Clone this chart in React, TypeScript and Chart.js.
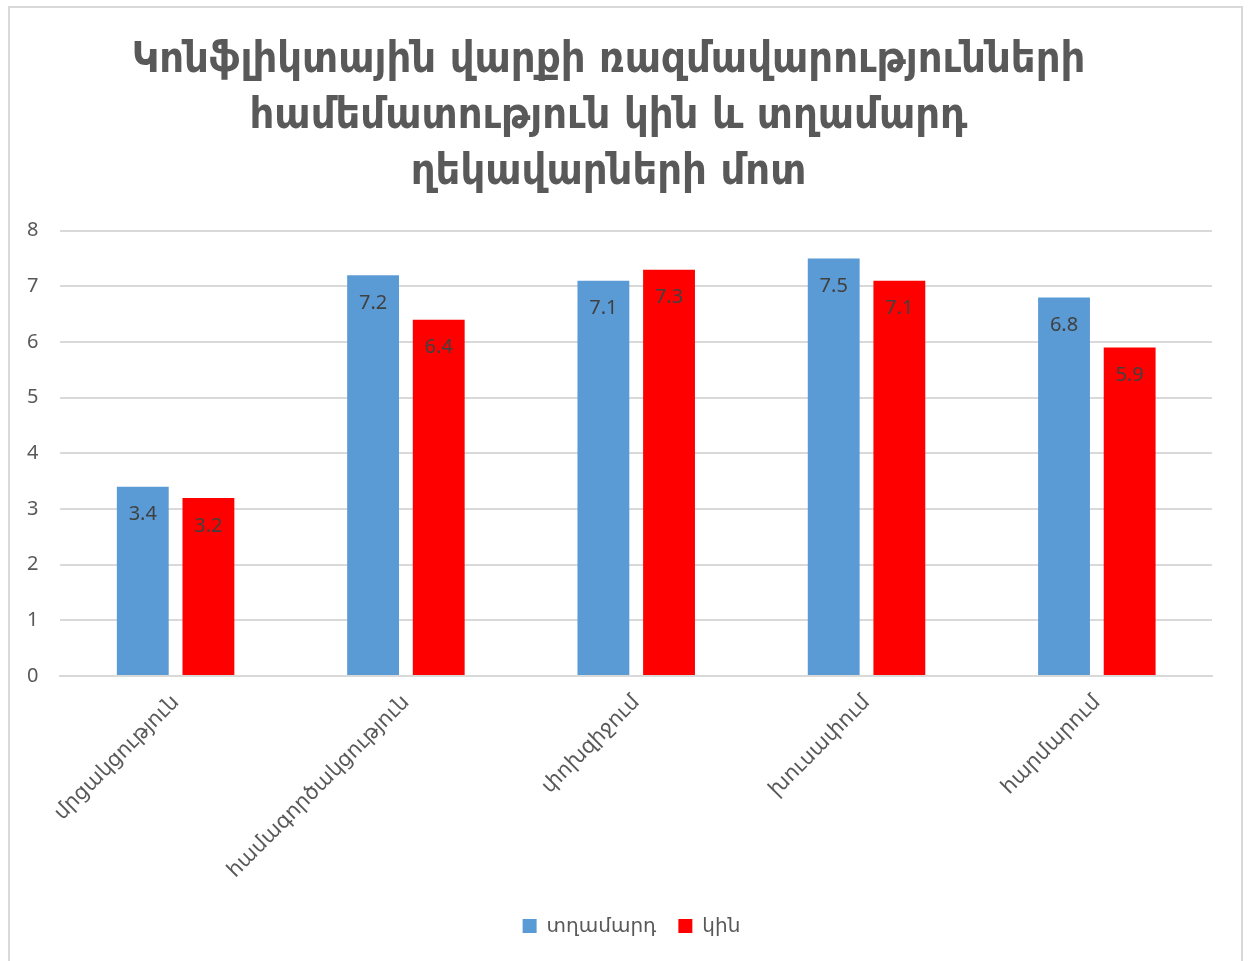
import React, { useEffect, useRef } from "react";
import { Chart, registerables } from "chart.js";

Chart.register(...registerables);

const titleLines = [
  "Կոնֆլիկտային վարքի ռազմավարությունների",
  "համեմատություն կին և տղամարդ",
  "ղեկավարների մոտ",
];
const categories = [
  "մրցակցություն",
  "համագործակցություն",
  "փոխզիջում",
  "խուսափում",
  "հարմարում",
];
const seriesNames = ["տղամարդ", "կին"];
const menValues = [3.4, 7.2, 7.1, 7.5, 6.8];
const womenValues = [3.2, 6.4, 7.3, 7.1, 5.9];
const yTicks = [0, 1, 2, 3, 4, 5, 6, 7, 8];

const FONT = "'Noto Sans', 'DejaVu Sans', sans-serif";
const TITLE_FONT = "'DejaVu Sans Condensed', 'DejaVu Sans', sans-serif";

const valueLabels = {
  id: "valueLabels",
  afterDatasetsDraw(chart: any) {
    const ctx = chart.ctx;
    ctx.save();
    ctx.font = `20px ${FONT}`;
    ctx.fillStyle = "#404040";
    ctx.textAlign = "center";
    ctx.textBaseline = "middle";
    chart.data.datasets.forEach((ds: any, i: number) => {
      const meta = chart.getDatasetMeta(i);
      meta.data.forEach((bar: any, j: number) => {
        ctx.fillText(String(ds.data[j]), bar.x, bar.y + 28);
      });
    });
    ctx.restore();
  },
};

const legendShift = {
  id: "legendShift",
  afterLayout(chart: any) {
    const lg = chart.legend;
    if (lg) {
      lg.left += 23;
      lg.right += 23;
    }
  },
};

export default function App() {
  const ref = useRef<HTMLCanvasElement>(null);
  useEffect(() => {
    if (!ref.current) return;
    const chart = new Chart(ref.current, {
      type: "bar",
      data: {
        labels: categories,
        datasets: [
          {
            label: seriesNames[0],
            data: menValues,
            backgroundColor: "#5b9bd5",
            categoryPercentage: 0.57,
            barPercentage: 0.79,
          },
          {
            label: seriesNames[1],
            data: womenValues,
            backgroundColor: "#ff0000",
            categoryPercentage: 0.57,
            barPercentage: 0.79,
          },
        ],
      },
      options: {
        animation: false,
        responsive: false,
        maintainAspectRatio: false,
        layout: { padding: { left: 5, right: 36, top: 33, bottom: 15 } },
        plugins: {
          title: {
            display: true,
            text: titleLines,
            color: "#595959",
            font: { family: TITLE_FONT, size: 43, weight: "bold", lineHeight: 1.3 },
            padding: { top: 0, bottom: 30 },
          },
          legend: {
            position: "bottom",
            labels: {
              color: "#595959",
              font: { family: FONT, size: 20 },
              boxWidth: 14,
              boxHeight: 14,
              padding: 22,
            },
          },
          tooltip: { enabled: false },
        },
        scales: {
          x: {
            grid: { display: false },
            border: { color: "#d9d9d9", width: 2 },
            ticks: {
              color: "#595959",
              font: { family: FONT, size: 21 },
              maxRotation: 45,
              minRotation: 45,
              padding: 6,
            },
            afterFit: (scale: any) => {
              scale.height = 218;
            },
          },
          y: {
            min: 0,
            max: 8,
            afterBuildTicks: (axis: any) => {
              axis.ticks = yTicks.map((v) => ({ value: v }));
            },
            grid: { color: "#d9d9d9", lineWidth: 2, drawTicks: false },
            border: { display: false },
            ticks: {
              color: "#595959",
              font: { family: FONT, size: 20 },
              padding: 22,
            },
          },
        },
      },
      plugins: [valueLabels, legendShift],
    });
    return () => chart.destroy();
  }, []);

  return (
    <div style={{ position: "absolute", left: 0, top: 0, width: 1248, height: 961, overflow: "hidden", background: "#fff" }}>
      <div
        style={{
          position: "absolute",
          left: 8,
          top: 6,
          width: 1231,
          height: 1000,
          borderTop: "2px solid #d9d9d9",
          borderLeft: "2px solid #d9d9d9",
          borderRight: "2px solid #d9d9d9",
        }}
      />
      <canvas ref={ref} width={1248} height={961} style={{ position: "absolute", left: 0, top: 0 }} />
    </div>
  );
}
